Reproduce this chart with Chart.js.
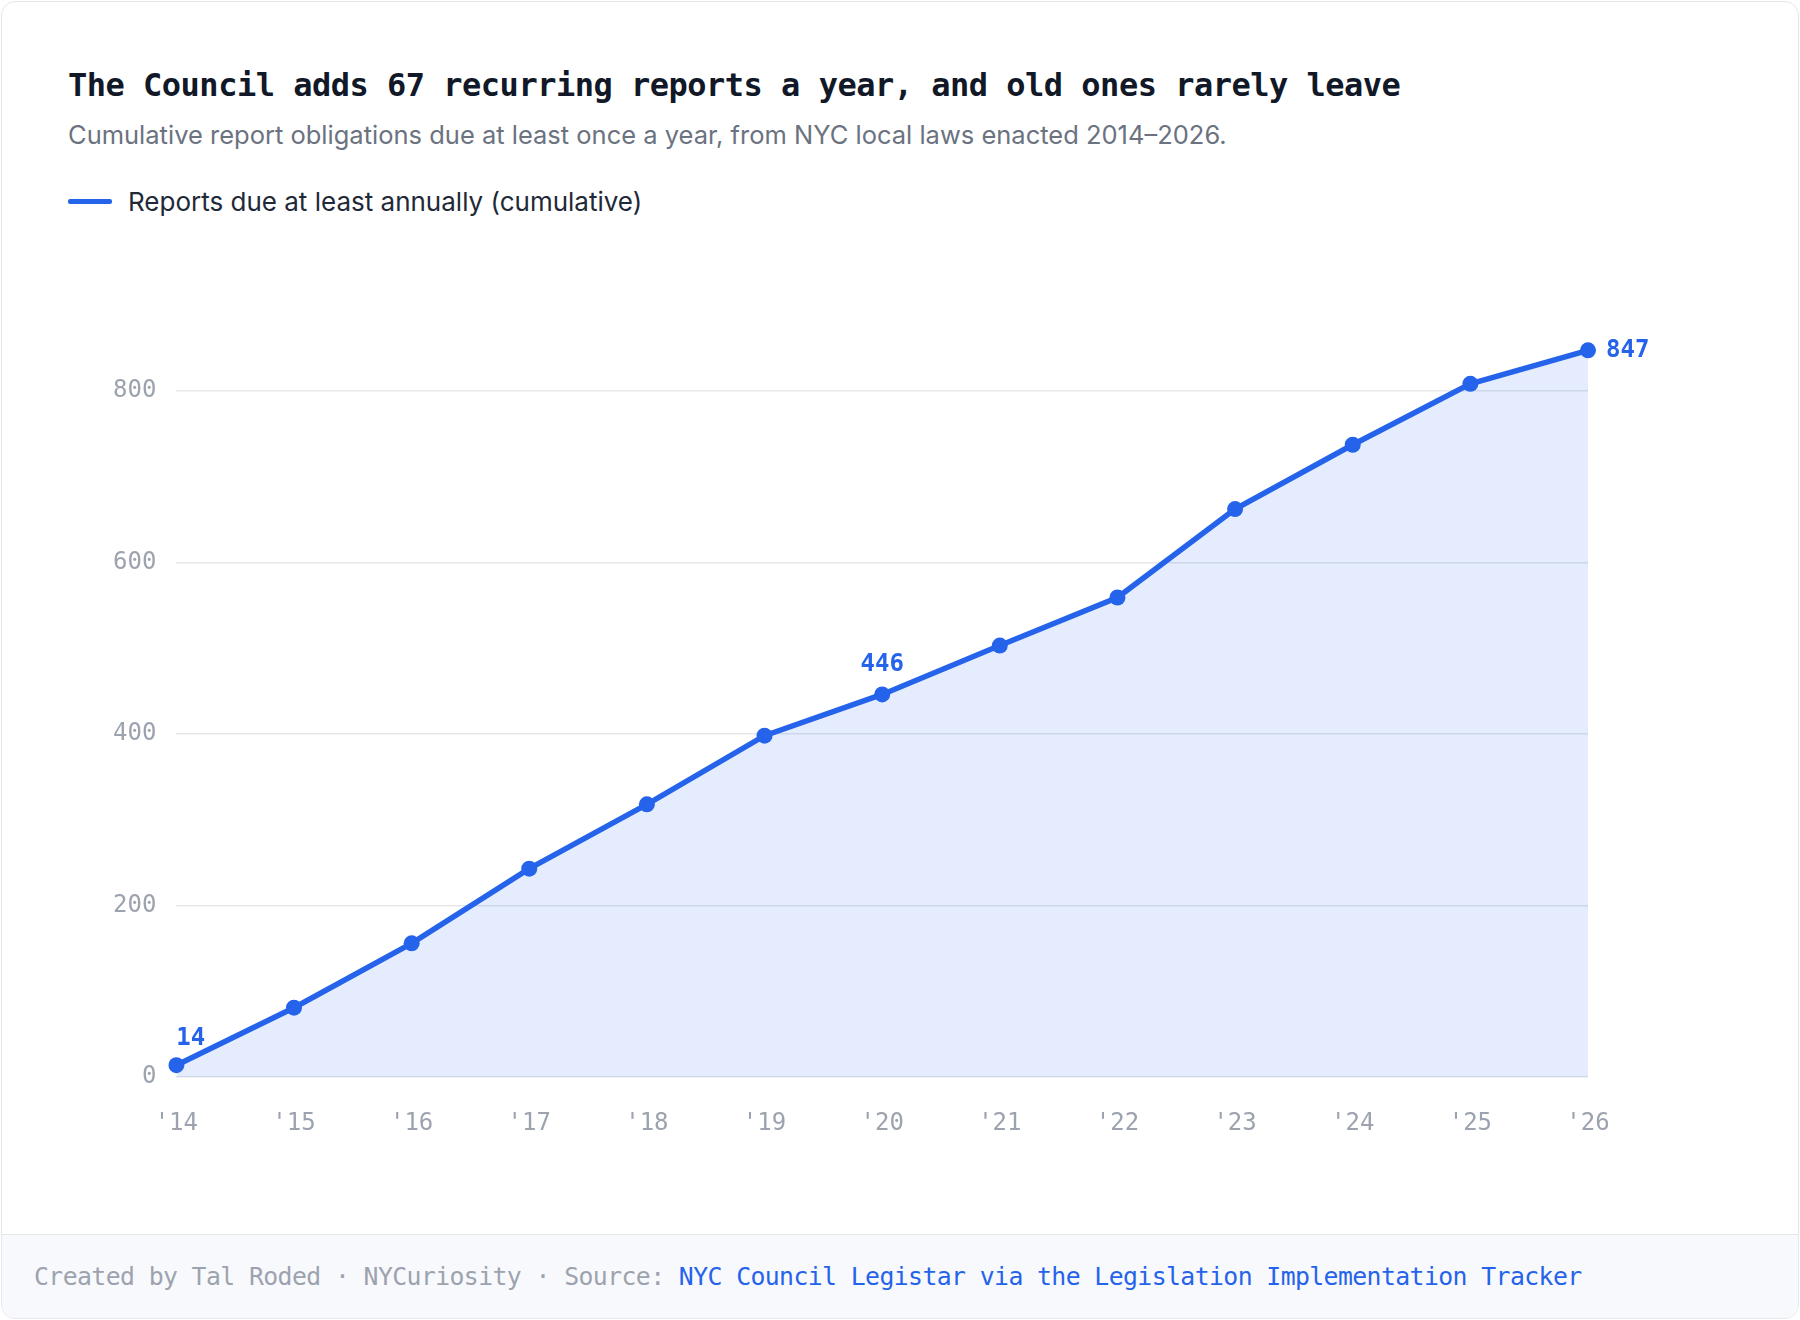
<!DOCTYPE html>
<html>
<head>
<meta charset="utf-8">
<script src="https://cdn.jsdelivr.net/npm/chart.js@4"></script>
<style>
	html, body { margin: 0; padding: 0; background: #ffffff; }
	body { width: 1800px; height: 1320px; position: relative; overflow: hidden; }
	.card { position: absolute; left: 1px; top: 1px; width: 1796px; height: 1316px; border: 1px solid #e5e7eb; border-radius: 14px; overflow: hidden; background: #fff; }
	.title { position: absolute; left: 66px; top: 64px; font: bold 32px "DejaVu Sans Mono", monospace; color: #111827; letter-spacing: -0.5px; }
	.subtitle { position: absolute; left: 66px; top: 117px; font: 25.5px "Inter", "Noto Sans", sans-serif; color: #6b7280; }
	.legend { position: absolute; left: 66px; top: 184px; font: 26px "Inter", "Noto Sans", sans-serif; color: #1f2937; display: flex; align-items: center; }
	.legend i { display: inline-block; width: 44px; height: 5px; background: #2563eb; border-radius: 2px; margin-right: 16px; }
	.chart { position: absolute; left: 66px; top: 250px; width: 1670px; height: 910px; }
	.footer { position: absolute; left: 0; bottom: 0; width: 100%; height: 84px; background: #f8f9fc; border-top: 1px solid #e5e7eb; font: 24.8px "DejaVu Sans Mono", monospace; color: #9ca3af; line-height: 84px; padding-left: 32px; box-sizing: border-box; letter-spacing: -0.6px; }
	.footer a { color: #2563eb; text-decoration: none; }
</style>
</head>
<body>
<div class="card">
	<div class="title">The Council adds 67 recurring reports a year, and old ones rarely leave</div>
	<div class="subtitle">Cumulative report obligations due at least once a year, from NYC local laws enacted 2014–2026.</div>
	<div class="legend"><i></i>Reports due at least annually (cumulative)</div>
	<div class="chart"><canvas id="chartLine"></canvas></div>
	<div class="footer">Created by Tal Roded · NYCuriosity · Source: <a>NYC Council Legistar via the Legislation Implementation Tracker</a></div>
</div>
<script>
	'use strict';

	var years = ["'14", "'15", "'16", "'17", "'18", "'19", "'20", "'21", "'22", "'23", "'24", "'25", "'26"];
	var reports = [14, 81, 156, 243, 318, 398, 446, 503, 559, 662, 737, 808, 847];
	var labelledIdx = [0, 6, 12];
	var yTicks = [0, 200, 400, 600, 800];

	var blue = '#2563eb';
	var mono = '"DejaVu Sans Mono", monospace';

	// draws value labels for the first, middle and last points
	var valueLabels = {
		id: 'valueLabels',
		afterDatasetsDraw: function(chart) {
			var ctx = chart.ctx;
			var meta = chart.getDatasetMeta(0);
			ctx.save();
			ctx.font = 'bold 24px ' + mono;
			ctx.fillStyle = blue;
			labelledIdx.forEach(function(i) {
				var p = meta.data[i];
				if (i === reports.length - 1) {
					ctx.textAlign = 'left';
					ctx.textBaseline = 'middle';
					ctx.fillText(reports[i], p.x + 18, p.y);
				} else if (i === 0) {
					ctx.textAlign = 'left';
					ctx.textBaseline = 'bottom';
					ctx.fillText(reports[i], p.x, p.y - 14);
				} else {
					ctx.textAlign = 'center';
					ctx.textBaseline = 'bottom';
					ctx.fillText(reports[i], p.x, p.y - 18);
				}
			});
			ctx.restore();
		}
	};

	var canvas = document.getElementById('chartLine');
	new Chart(canvas.getContext('2d'), {
		type: 'line',
		data: {
			labels: years,
			datasets: [{
				label: 'Reports due at least annually (cumulative)',
				data: reports,
				borderColor: blue,
				backgroundColor: 'rgba(37, 99, 235, 0.12)',
				borderWidth: 5.5,
				pointRadius: 8,
				pointBorderWidth: 0,
				pointBackgroundColor: blue,
				pointBorderColor: blue,
				fill: true,
				tension: 0
			}]
		},
		options: {
			animation: false,
			maintainAspectRatio: false,
			responsive: true,
			layout: { padding: { right: 150, top: 70, left: 25 } },
			plugins: {
				legend: { display: false },
				tooltip: { enabled: false }
			},
			scales: {
				y: {
					min: 0,
					max: 880,
					afterBuildTicks: function(axis) {
						axis.ticks = yTicks.map(function(v) { return { value: v }; });
					},
					border: { display: false },
					grid: { color: '#e5e7eb', lineWidth: 1.5, drawTicks: false },
					ticks: {
						padding: 20,
						color: '#9ca3af',
						font: { family: mono, size: 24 }
					}
				},
				x: {
					offset: false,
					border: { display: false },
					grid: { display: false },
					ticks: {
						padding: 24,
						color: '#9ca3af',
						font: { family: mono, size: 24 }
					}
				}
			}
		},
		plugins: [valueLabels]
	});
</script>
</body>
</html>
